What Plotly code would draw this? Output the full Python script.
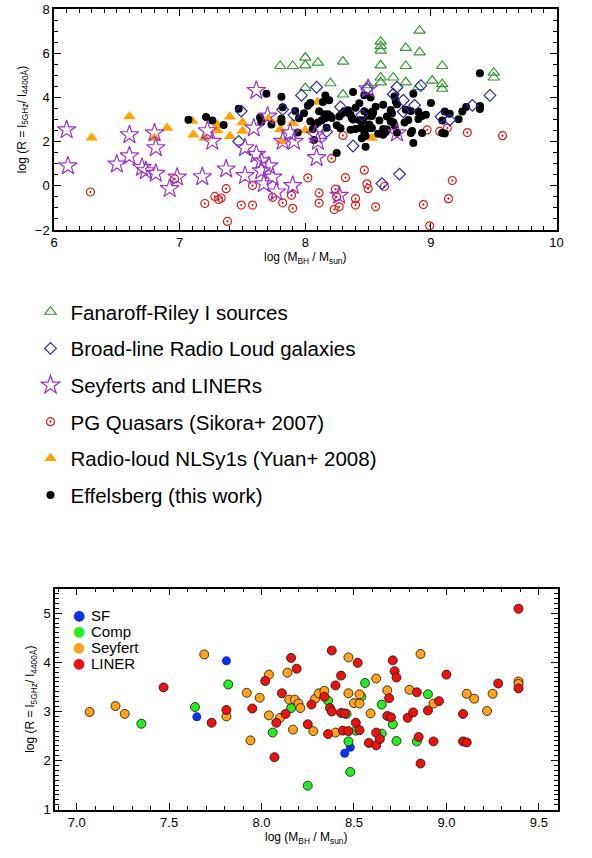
import plotly.graph_objects as go

# ---------------- Top panel data ----------------
fr1_x = [7.80, 7.90, 8.00, 8.00, 8.10, 8.30, 8.60, 8.60, 8.60, 8.60, 8.80, 8.80, 8.91, 8.91, 9.09,
         8.00, 8.20, 8.30, 8.50, 8.60, 8.60, 8.70, 8.80, 8.90, 9.01, 9.09, 9.09, 9.50, 9.50]
fr1_y = [5.42, 5.42, 5.80, 5.45, 5.57, 5.62, 6.52, 6.32, 6.12, 5.45, 6.24, 5.42, 7.02, 6.04, 5.42,
         4.43, 4.64, 4.13, 4.55, 4.90, 4.68, 4.90, 4.68, 4.47, 4.76, 4.60, 4.39, 5.12, 4.90]

blrg_x = [7.49, 7.47, 7.82, 7.91, 7.97, 8.09, 8.17, 8.28, 8.38, 8.45, 8.49, 8.70, 8.73, 8.78, 8.78,
          8.87, 8.92, 9.08, 9.15, 9.33, 9.47, 8.75, 8.61]
blrg_y = [3.38, 2.01, 3.45, 3.20, 4.09, 4.46, 2.45, 3.57, 1.80, 3.20, 4.38, 4.14, 4.46, 3.87, 3.35,
          3.64, 4.53, 3.12, 2.98, 3.64, 4.09, 0.53, 0.10]

sey_x = [6.10, 6.11, 6.50, 6.60, 6.60, 6.70, 6.73, 6.81, 6.80, 6.81, 6.92, 6.98, 7.18, 7.22, 7.26,
         7.37, 7.52, 7.61, 7.59, 7.52, 7.61, 7.65, 7.71, 7.65, 7.74, 7.67, 7.77, 7.90, 7.70, 7.82,
         7.91, 7.88, 8.09, 8.10, 8.08, 8.27, 8.50, 8.73]
sey_y = [2.53, 0.90, 0.98, 2.31, 1.35, 0.83, 0.68, 0.56, 2.39, 1.72, -0.13, 0.39, 0.41, 2.49, 2.01,
         0.76, 0.46, 4.31, 2.61, 1.72, 1.42, 1.13, 0.90, 0.68, 0.39, 0.09, -0.28, 0.01, 3.15, 2.01,
         2.01, 2.39, 1.27, 2.01, 2.31, -0.43, 4.39, 2.39]

pg_x = [6.29, 6.96, 7.20, 7.28, 7.31, 7.33, 7.37, 7.38, 7.49, 7.58, 7.58, 7.74, 7.82, 7.89, 7.90,
        8.02, 8.11, 8.11, 8.21, 8.30, 8.32, 8.24, 8.25, 8.23, 8.27, 8.40, 8.40, 8.47, 8.49, 8.50,
        8.56, 8.63, 8.94, 8.99, 8.97, 9.07, 9.13, 9.17, 9.14, 9.29, 9.57]
pg_y = [-0.28, 0.31, -0.80, -0.48, -0.62, -0.55, -0.13, -1.61, -0.87, -0.87, 0.01, -0.52, -0.77, -0.43, -1.02,
        0.36, -0.32, -0.78, 1.24, 2.28, 0.37, -0.15, -0.50, -1.07, -0.95, -0.58, -0.87, 0.71, 0.09, -0.13,
        -0.95, -0.03, -0.85, -1.81, 2.53, 2.46, 2.61, 0.24, -0.58, 2.41, 2.27]

nls_x = [6.30, 6.60, 6.80, 6.90, 7.10, 7.11, 7.20, 7.30, 7.30, 7.40, 7.40, 7.50, 7.50, 7.71, 7.80,
         7.80, 7.81, 7.90, 8.00, 8.10, 8.53]
nls_y = [2.18, 3.14, 2.16, 2.61, 2.93, 2.31, 2.16, 2.76, 2.50, 3.12, 2.24, 2.86, 2.48, 3.05, 2.98,
         2.55, 2.01, 2.83, 2.50, 3.79, 2.16]

# ---------------- Bottom panel data (Effelsberg sample, by class) ----------------
sf_x = [7.65, 7.81, 8.45, 8.48]
sf_y = [2.89, 4.03, 2.15, 2.27]

comp_x = [7.35, 7.64, 7.82, 8.06, 8.16, 8.25, 8.36, 8.46, 8.47, 8.48, 8.54, 8.51, 8.56, 8.65, 8.65,
          8.71, 8.73, 8.84, 8.90]
comp_y = [2.75, 3.09, 3.55, 2.57, 3.07, 1.49, 3.22, 2.95, 2.39, 1.77, 3.30, 2.61, 3.58, 3.14, 2.55,
          2.74, 2.40, 2.39, 3.35]

seyf_x = [7.07, 7.21, 7.26, 7.69, 7.81, 7.92, 7.94, 7.99, 8.04, 8.04, 8.10, 8.14, 8.15, 8.18, 8.17,
          8.20, 8.21, 8.28, 8.29, 8.31, 8.34, 8.40, 8.47, 8.47, 8.50, 8.53, 8.53, 8.59, 8.62, 8.68,
          8.80, 8.86, 8.93, 9.11, 9.15, 9.22, 9.25, 9.39, 9.39]
seyf_y = [2.99, 3.11, 2.95, 4.16, 2.90, 3.38, 2.41, 3.28, 3.75, 2.92, 2.87, 3.79, 3.24, 3.24, 2.63,
          3.16, 3.07, 2.60, 3.26, 3.37, 3.42, 2.57, 4.10, 3.37, 3.17, 3.16, 3.35, 2.96, 3.67, 3.43,
          3.44, 4.17, 3.16, 3.36, 3.26, 3.01, 3.36, 3.61, 3.56]

liner_x = [7.47, 7.73, 7.81, 7.95, 8.02, 8.07, 8.08, 8.11, 8.13, 8.16, 8.19, 8.25, 8.27, 8.34, 8.36,
           8.37, 8.38, 8.38, 8.40, 8.43, 8.43, 8.45, 8.44, 8.47, 8.51, 8.52, 8.53, 8.58, 8.62, 8.62,
           8.64, 8.69, 8.68, 8.70, 8.71, 8.72, 8.73, 8.79, 8.82, 8.84, 8.85, 8.86, 8.90, 8.93, 8.96,
           9.00, 9.09, 9.09, 9.11, 9.28, 9.39, 9.39]
liner_y = [3.49, 2.77, 3.03, 3.06, 3.62, 2.07, 2.77, 3.37, 2.95, 4.09, 3.87, 2.74, 3.14, 3.30, 2.54,
           3.07, 3.00, 4.24, 3.53, 3.73, 2.97, 2.96, 2.61, 2.60, 2.77, 3.99, 2.62, 2.36, 2.31, 2.57,
           2.44, 3.27, 2.91, 2.88, 4.04, 3.82, 3.69, 2.87, 2.98, 3.39, 2.48, 1.94, 3.02, 2.39, 3.21,
           3.75, 2.95, 2.39, 2.37, 3.57, 5.09, 3.47]

bottom_names = ["SF", "Comp", "Seyfert", "LINER"]
bottom_colors = ["#1030e0", "#22ee22", "#ffa31a", "#ee1111"]

# Effelsberg sample in the top panel = union of the four classes
eff_x = sf_x + comp_x + seyf_x + liner_x
eff_y = sf_y + comp_y + seyf_y + liner_y

FONT = "Liberation Sans, Arial, Helvetica, sans-serif"

fig = go.Figure()

def top(x, y, name, symbol, color, size, rank, lw=1.2):
    fig.add_trace(go.Scatter(
        x=x, y=y, mode="markers", name=name, legend="legend", legendrank=rank,
        legendgroup="g%d" % rank,
        marker=dict(symbol=symbol, color=color, size=size, line=dict(color=color, width=lw)),
        xaxis="x", yaxis="y"))

top(pg_x, pg_y, "PG Quasars (Sikora+ 2007)", "circle-open-dot", "#dd1f1f", 8, 4)
top(nls_x, nls_y, "Radio-loud NLSy1s (Yuan+ 2008)", "triangle-up", "#ffa500", 11, 5, 0)
top(eff_x, eff_y, "Effelsberg (this work)", "circle", "#000000", 8, 6, 0)
top(fr1_x, fr1_y, "Fanaroff-Riley I sources", "triangle-up-open", "#339933", 10, 1)
top(blrg_x, blrg_y, "Broad-line Radio Loud galaxies", "diamond-open", "#2a2aa8", 9, 2)
top(sey_x, sey_y, "Seyferts and LINERs", "star-open", "#9933cc", 14, 3)

for xs, ys, nm, col in zip([sf_x, comp_x, seyf_x, liner_x], [sf_y, comp_y, seyf_y, liner_y],
                           bottom_names, bottom_colors):
    fig.add_trace(go.Scatter(
        x=xs, y=ys, mode="markers", name=nm, showlegend=False,
        marker=dict(symbol="circle", color=col, size=9,
                    line=dict(color="rgba(40,25,10,0.85)", width=0 if nm == "SF" else 1)),
        xaxis="x2", yaxis="y2"))

W, H = 592, 858
def px_x(p): return p / W
def px_y(p): return 1 - p / H

axis_common = dict(showline=True, linecolor="black", linewidth=1.5, mirror="allticks",
                   ticks="inside", ticklen=7, tickwidth=1.2, tickcolor="black",
                   showgrid=False, zeroline=False, ticklabeloverflow="allow",
                   tickfont=dict(family=FONT, size=13, color="black"))

ytitle = "log (R = l<sub>5GHz</sub>/ l<sub>4400Å</sub>)"
xtitle = "log (M<sub>BH</sub> / M<sub>sun</sub>)"

# bottom-panel key (in-plot legend), drawn as text
annotations = []
for i, (nm, col) in enumerate(zip(bottom_names, bottom_colors)):
    yy = px_y(619 + i * 16.3)
    annotations.append(dict(x=px_x(76), y=yy, xref="paper", yref="paper", text="●",
                            showarrow=False, xanchor="center", yanchor="middle",
                            font=dict(family="DejaVu Sans", size=14, color=col)))
    annotations.append(dict(x=px_x(87), y=yy, xref="paper", yref="paper", text=nm,
                            showarrow=False, xanchor="left", yanchor="middle",
                            font=dict(family=FONT, size=15, color="black")))

fig.update_layout(
    width=W, height=H, margin=dict(l=0, r=0, t=0, b=0),
    paper_bgcolor="white", plot_bgcolor="white",
    font=dict(family=FONT, color="black"),
    xaxis=dict(domain=[px_x(51), px_x(563)], range=[6, 10], dtick=1, anchor="y",
               minor=dict(dtick=0.1, ticks="inside", ticklen=4, tickcolor="black"),
               title=dict(text=xtitle, font=dict(size=12), standoff=2),
               **axis_common),
    yaxis=dict(domain=[px_y(227), px_y(2)], range=[-2, 8], dtick=2, anchor="x",
               minor=dict(dtick=0.5, ticks="inside", ticklen=4, tickcolor="black"),
               title=dict(text=ytitle, font=dict(size=12), standoff=6),
               **axis_common),
    xaxis2=dict(domain=[px_x(52), px_x(564)], range=[6.883, 9.601], dtick=0.5, tick0=7,
                tickformat=".1f", anchor="y2",
                minor=dict(dtick=0.1, ticks="inside", ticklen=4, tickcolor="black"),
                title=dict(text=xtitle, font=dict(size=12), standoff=2),
                **axis_common),
    yaxis2=dict(domain=[px_y(817), px_y(592)], range=[1, 5.5], dtick=1, anchor="x2",
                minor=dict(dtick=0.1, ticks="inside", ticklen=4, tickcolor="black"),
                title=dict(text=ytitle, font=dict(size=12), standoff=6),
                **axis_common),
    legend=dict(x=px_x(27), y=px_y(290), xanchor="left", yanchor="top",
                font=dict(family=FONT, size=20.5, color="black"),
                traceorder="grouped", tracegroupgap=7,
                bgcolor="rgba(0,0,0,0)", itemclick=False),
    annotations=annotations,
    showlegend=True,
)

fig.write_html("out.html")
